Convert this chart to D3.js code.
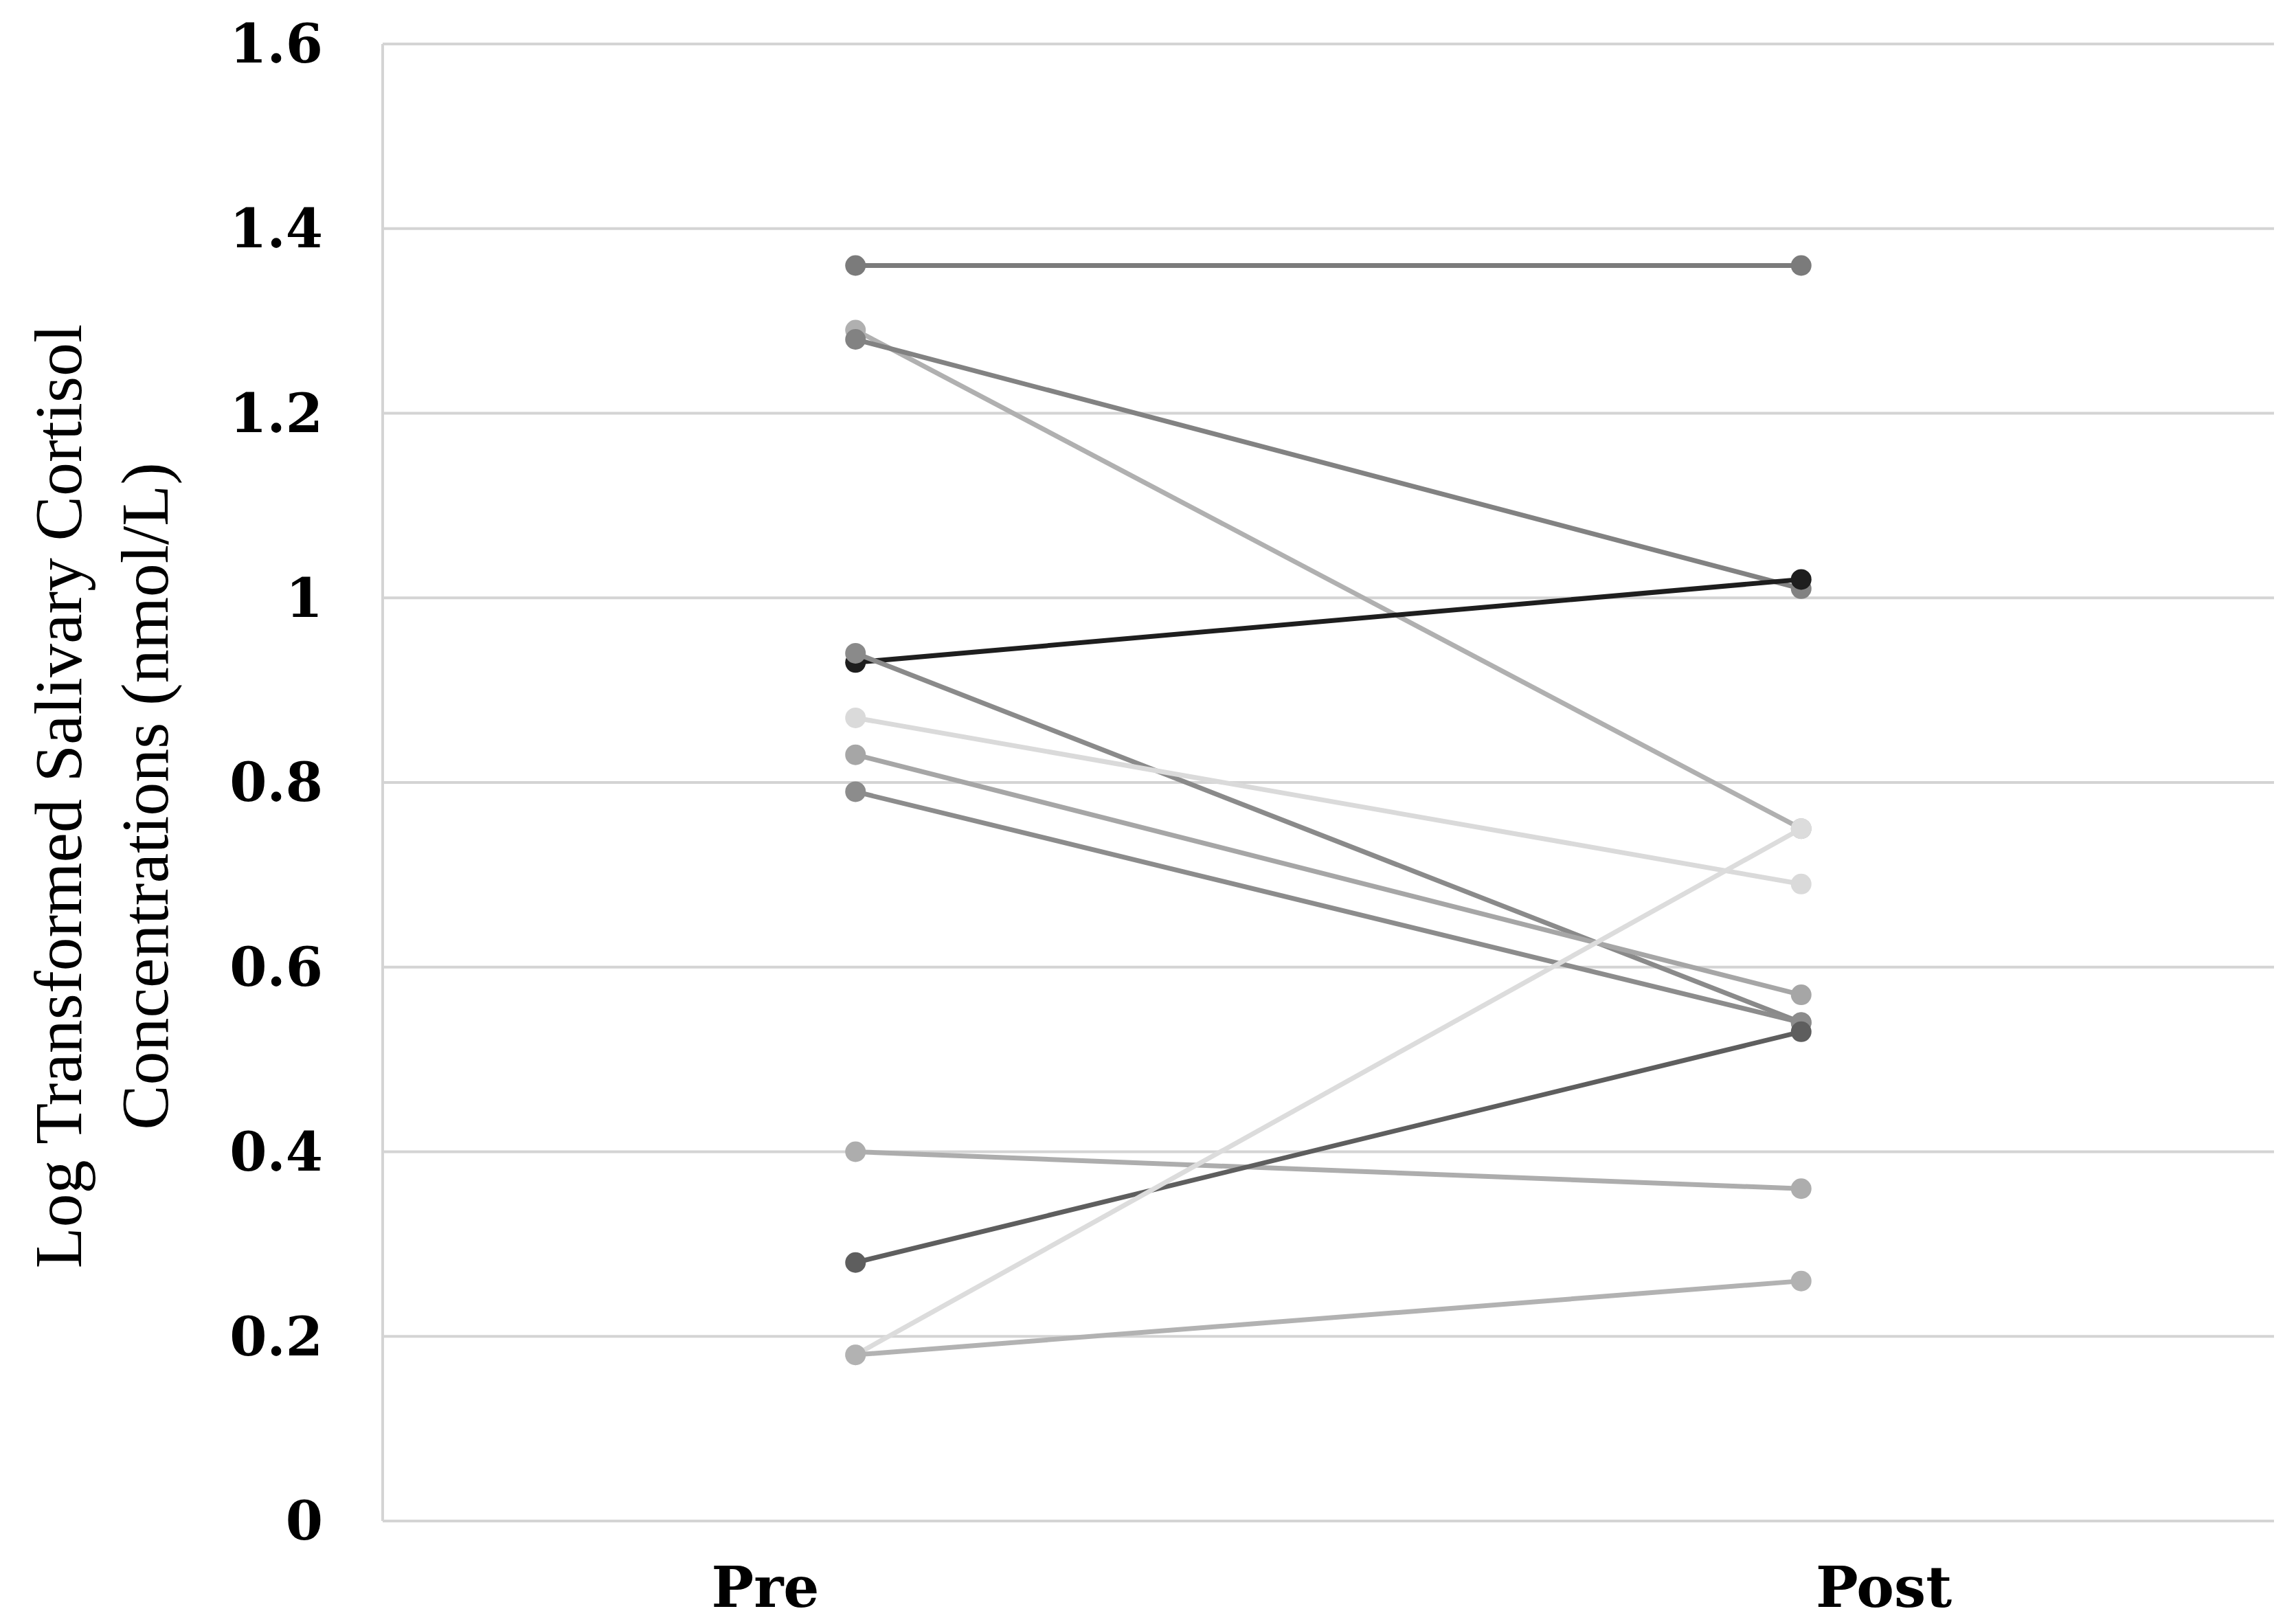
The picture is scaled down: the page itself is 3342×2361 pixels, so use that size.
<!DOCTYPE html>
<html><head><meta charset="utf-8">
<script src="https://cdn.jsdelivr.net/npm/d3@7"></script>
<style>body{margin:0;background:#fff}</style>
</head><body>
<script>
// chart data
const categories = ["Pre", "Post"];
const preValues  = [1.36, 1.29, 1.28, 0.93, 0.94, 0.87, 0.83, 0.79, 0.40, 0.28, 0.18, 0.18];
const postValues = [1.36, 0.75, 1.01, 1.02, 0.54, 0.69, 0.57, 0.54, 0.36, 0.53, 0.75, 0.26];
const seriesColors = ["#7b7b7b", "#b0b0b0", "#828282", "#1e1e1e", "#8a8a8a", "#dadada",
                      "#a6a6a6", "#8c8c8c", "#adadad", "#5e5e5e", "#dcdcdc", "#b2b2b2"];
const yTicks = [0, 0.2, 0.4, 0.6, 0.8, 1, 1.2, 1.4, 1.6];

const W = 3342, H = 2361;
const m = {left: 557, right: 32, top: 64, bottom: 147};

const svg = d3.select("body").append("svg").attr("width", W).attr("height", H);

const x = d3.scaleBand().domain(categories).range([m.left, W - m.right]);
const y = d3.scaleLinear().domain([0, 1.6]).range([H - m.bottom, m.top]);
// category labels sit a bit outside the point columns
const xLabel = d3.scalePoint().domain(categories).range([1114, 2742]);

// grid
svg.append("g").selectAll("line").data(yTicks).join("line")
  .attr("x1", m.left).attr("x2", W - m.right)
  .attr("y1", d => y(d)).attr("y2", d => y(d))
  .attr("stroke", "#d4d4d4").attr("stroke-width", 4);
svg.append("line").attr("x1", m.left).attr("x2", m.left)
  .attr("y1", y(1.6)).attr("y2", y(0)).attr("stroke", "#d4d4d4").attr("stroke-width", 4);

// y tick labels
svg.append("g").selectAll("text").data(yTicks).join("text")
  .attr("x", 470).attr("y", d => y(d)).attr("dy", "0.35em")
  .attr("text-anchor", "end")
  .style("font", "bold 78px 'DejaVu Serif', 'Liberation Serif', serif")
  .text(d => d);

// x labels
svg.append("g").selectAll("text").data(categories).join("text")
  .attr("x", d => xLabel(d)).attr("y", H - 22)
  .attr("text-anchor", "middle")
  .style("font", "bold 82px 'DejaVu Serif', 'Liberation Serif', serif")
  .text(d => d);

// y title
const t = svg.append("text").attr("transform", "translate(118," + ((m.top + H - m.bottom) / 2 + 20) + ") rotate(-90)")
  .attr("text-anchor", "middle")
  .style("font", "98px 'Liberation Serif', 'DejaVu Serif', serif");
t.append("tspan").attr("x", 0).attr("dy", 0).text("Log Transformed Salivary Cortisol");
t.append("tspan").attr("x", 0).attr("dy", 126).text("Concentrations (nmol/L)");

// series
const cx = c => x(c) + x.bandwidth() / 2;
const series = preValues.map((p, i) => ({pre: p, post: postValues[i], color: seriesColors[i]}));
const g = svg.append("g").selectAll("g").data(series).join("g");
g.append("line")
  .attr("x1", cx("Pre")).attr("x2", cx("Post"))
  .attr("y1", d => y(d.pre)).attr("y2", d => y(d.post))
  .attr("stroke", d => d.color).attr("stroke-width", 7);
g.append("circle").attr("cx", cx("Pre")).attr("cy", d => y(d.pre)).attr("r", 15).attr("fill", d => d.color);
g.append("circle").attr("cx", cx("Post")).attr("cy", d => y(d.post)).attr("r", 15).attr("fill", d => d.color);
</script>
</body></html>
